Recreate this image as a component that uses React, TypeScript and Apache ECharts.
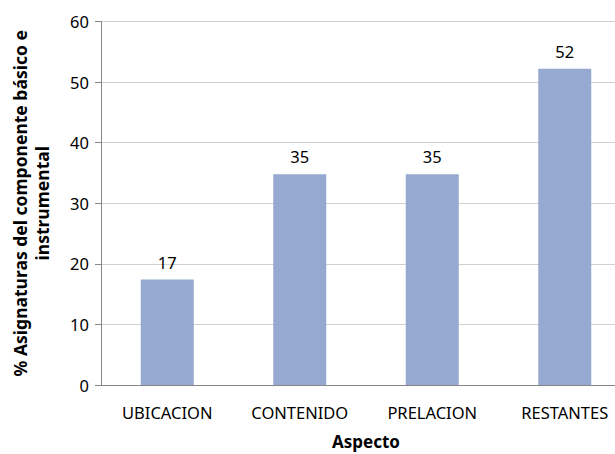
import React, { useEffect, useRef } from "react";
import * as echarts from "echarts";

const categories = ["UBICACION", "CONTENIDO", "PRELACION", "RESTANTES"];
const values = [17.4, 34.8, 34.8, 52.2];
const yTicks = { min: 0, max: 60, interval: 10 };
const yTitle = "% Asignaturas del componente básico e\ninstrumental";
const xTitle = "Aspecto";

const FONT = "Noto Sans";

export default function App() {
  const ref = useRef<HTMLDivElement>(null);
  useEffect(() => {
    document.body.style.margin = "0";
    const chart = echarts.init(ref.current!, null, { renderer: "svg" });
    chart.setOption({
      animation: false,
      backgroundColor: "#ffffff",
      textStyle: { fontFamily: FONT },
      grid: {
        left: 101,
        top: 21.5,
        width: 530,
        height: 363.5,
        containLabel: false,
        outerBoundsMode: "none",
      },
      xAxis: {
        type: "category",
        data: categories,
        axisLine: { lineStyle: { color: "#868686", width: 1 } },
        axisTick: { show: false },
        axisLabel: { color: "#000", fontSize: 16.5, fontFamily: FONT, margin: 19 },
        name: xTitle,
        nameLocation: "middle",
        nameGap: 48,
        nameTextStyle: { color: "#000", fontSize: 17, fontWeight: "bold", fontFamily: FONT },
      },
      yAxis: {
        type: "value",
        min: yTicks.min,
        max: yTicks.max,
        interval: yTicks.interval,
        axisLine: { show: true, lineStyle: { color: "#868686", width: 1 } },
        axisTick: { show: true, length: 6, lineStyle: { color: "#868686" } },
        splitLine: { show: true, lineStyle: { color: "#d0d0d0", width: 1 } },
        axisLabel: { color: "#000", fontSize: 16.5, fontFamily: FONT, margin: 12 },
        name: yTitle,
        nameLocation: "middle",
        nameGap: 48,
        nameTextStyle: {
          color: "#000",
          fontSize: 17.5,
          fontWeight: "bold",
          fontFamily: FONT,
          lineHeight: 22,
          align: "center",
        },
      },
      series: [
        {
          type: "bar",
          data: values,
          barWidth: "40%",
          itemStyle: { color: "#95a9d1" },
          label: {
            show: true,
            position: "top",
            distance: 9,
            color: "#000",
            fontSize: 16.5,
            fontFamily: FONT,
            formatter: (p: any) => String(Math.round(p.value)),
          },
        },
      ],
    });
    return () => chart.dispose();
  }, []);
  return (
    <div
      ref={ref}
      style={{ position: "absolute", left: 0, top: 0, width: 615, height: 454 }}
    />
  );
}
